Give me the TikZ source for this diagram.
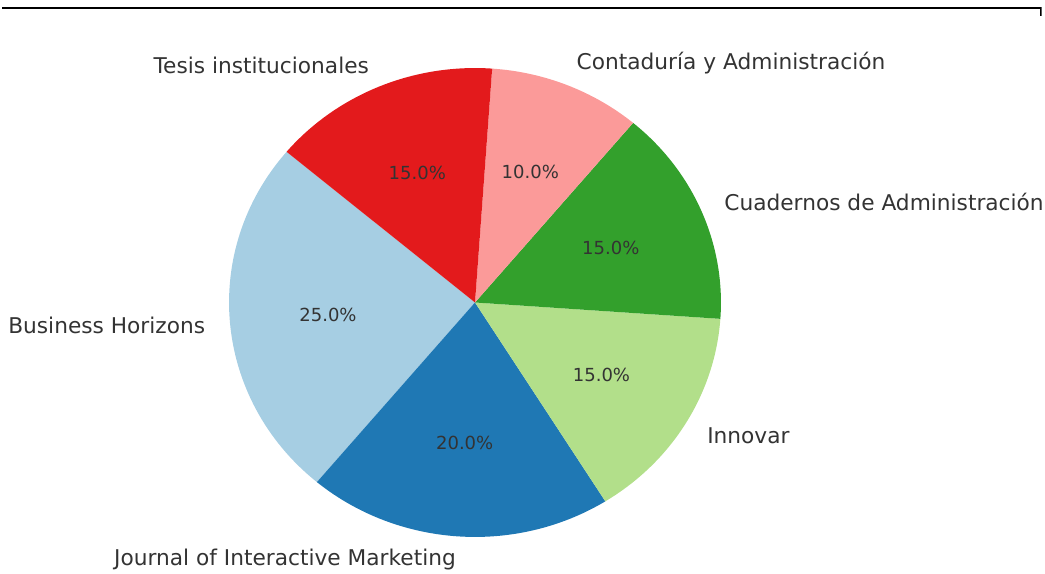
\documentclass[tikz,border=0pt]{standalone}
\usepackage{fontspec}
\setmainfont{DejaVu Sans}
\definecolor{lblue}{HTML}{A6CEE3}
\definecolor{dblue}{HTML}{1F78B4}
\definecolor{lgreen}{HTML}{B2DF8A}
\definecolor{dgreen}{HTML}{33A02C}
\definecolor{lred}{HTML}{FB9A99}
\definecolor{dred}{HTML}{E31A1C}
\definecolor{txtgray}{HTML}{333333}
\begin{document}
\begin{tikzpicture}[x=0.02cm,y=0.02cm,
    lbl/.style={text=txtgray,font=\fontsize{12.35}{14}\selectfont,inner sep=0pt},
    pct/.style={text=txtgray,font=\fontsize{10.25}{12}\selectfont,inner sep=0pt}]
  \useasboundingbox (0,0) rectangle (1045,574);
  \clip (0,0) rectangle (1041.5,574);
  \draw[line width=0.9pt] (2,566) -- (1041,566) -- (1041,558);
  \begin{scope}[shift={(475,271.5)},x=4.92cm,y=4.69cm]
    \coordinate (c) at (0,0);
    % wedges
    \fill[lblue] (c) -- (140:1) arc[start angle=140,end angle=230,radius=1] -- cycle;
    \fill[dblue] (c) -- (230:1) arc[start angle=230,end angle=302,radius=1] -- cycle;
    \fill[lgreen] (c) -- (302:1) arc[start angle=302,end angle=356,radius=1] -- cycle;
    \fill[dgreen] (c) -- (356:1) arc[start angle=356,end angle=410,radius=1] -- cycle;
    \fill[lred] (c) -- (50:1) arc[start angle=50,end angle=86,radius=1] -- cycle;
    \fill[dred] (c) -- (86:1) arc[start angle=86,end angle=140,radius=1] -- cycle;
    % labels
    \node[lbl,anchor=east] (bh) at (185:1.1) {Business Horizons};
    \node[lbl,anchor=east] (jim) at (266:1.1) {Journal of Interactive Marketing};
    \node[lbl,anchor=west] (inn) at (329:1.1) {Innovar};
    \node[lbl,anchor=west] (cda) at (23:1.1) {Cuadernos de Administración};
    \node[lbl,anchor=west] (cya) at (68:1.1) {Contaduría y Administración};
    \node[lbl,anchor=east] (tes) at (113:1.1) {Tesis institucionales};
    % percentages
    \node[pct] (bhpct) at (185:0.6) {25.0\%};
    \node[pct] (jimpct) at (266:0.6) {20.0\%};
    \node[pct] (innpct) at (329:0.6) {15.0\%};
    \node[pct] (cdapct) at (23:0.6) {15.0\%};
    \node[pct] (cyapct) at (68:0.6) {10.0\%};
    \node[pct] (tespct) at (113:0.6) {15.0\%};
  \end{scope}
\end{tikzpicture}
\end{document}
